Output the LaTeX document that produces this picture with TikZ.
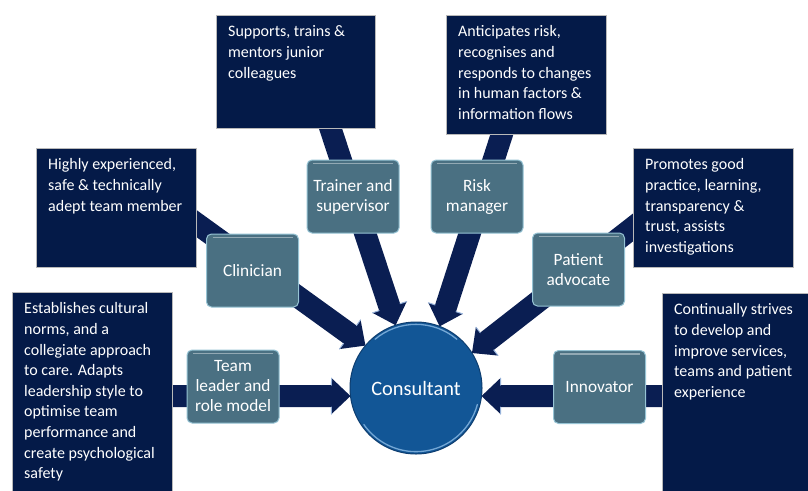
\documentclass[tikz,border=0pt]{standalone}
\usepackage{fontspec}
\setmainfont{Carlito}
\usetikzlibrary{calc}

\definecolor{navybox}{RGB}{4,26,72}
\definecolor{navyarrow}{RGB}{10,30,82}
\definecolor{tealbox}{RGB}{74,112,130}
\definecolor{tealedge}{RGB}{150,195,212}
\definecolor{ballblue}{RGB}{18,86,150}
\definecolor{ballrim}{RGB}{14,62,112}
\definecolor{ballshine}{RGB}{150,195,235}
\definecolor{bevel}{RGB}{150,178,218}

\pgfdeclarelayer{back}
\pgfsetlayers{back,main}

% broad block arrow from a start coordinate (#1) to a tip coordinate (#2)
\newcommand\fatarrow[2]{%
  \path (#2) coordinate (fa-t) ($(#2)!19pt!(#1)$) coordinate (fa-b);
  \fill[navyarrow]
    ($(#1)!11pt!90:(fa-t)$) -- ($(fa-b)!11pt!90:(fa-t)$) --
    ($(fa-b)!18pt!90:(fa-t)$) -- (fa-t) --
    ($(fa-b)!18pt!-90:(fa-t)$) -- ($(fa-b)!11pt!-90:(fa-t)$) --
    ($(#1)!11pt!-90:(fa-t)$) -- cycle;
  \draw[bevel, line width=1pt, line cap=round]
    ($(fa-b)!11pt!90:(fa-t)$) -- ($(fa-b)!18pt!90:(fa-t)$)
    ($(fa-b)!11pt!-90:(fa-t)$) -- ($(fa-b)!18pt!-90:(fa-t)$);
}

\tikzset{
  infobox/.style={rectangle, fill=navybox, draw=gray!55, line width=0.6pt,
    inner sep=0pt, anchor=north west},
  infotext/.style={anchor=north west, inner sep=0pt, align=left, text=white,
    font=\fontsize{16}{20.6}\selectfont},
  rolebox/.style={rectangle, rounded corners=5pt, fill=tealbox, draw=tealedge,
    line width=1pt, minimum width=92pt, minimum height=73pt, inner sep=2pt,
    text=white, align=center, font=\fontsize{17.3}{20}\selectfont,
    path picture={\draw[white, opacity=0.4, line width=1.5pt]
      ($(path picture bounding box.north west)+(6pt,-3.5pt)$) --
      ($(path picture bounding box.north east)+(-6pt,-3.5pt)$);}},
  hub/.style={circle, fill=ballblue, draw=ballrim, line width=1pt,
    minimum size=132pt, inner sep=0pt, outer sep=0pt, text=white,
    font=\fontsize{20.4}{24}\selectfont},
  shine/.style={ballshine, line width=1.3pt, line cap=round, opacity=0.75}
}

\begin{document}
\begin{tikzpicture}[x=1pt, y=-1pt]
\useasboundingbox (0,0) rectangle (808,490);

% description panels
\node[infobox, minimum width=159pt, minimum height=113pt] (b1) at (216,15) {};
\node[infobox, minimum width=160pt, minimum height=119pt] (b2) at (446,15) {};
\node[infobox, minimum width=160pt, minimum height=119pt] (b3) at (36,148) {};
\node[infobox, minimum width=160pt, minimum height=119pt] (b4) at (633,148) {};
\node[infobox, minimum width=160pt, minimum height=200pt] (b5) at (12,292) {};
\node[infobox, minimum width=150pt, minimum height=200pt] (b6) at (662,293) {};

\node[infotext] (t1) at ($(b1.north west)+(12,7.3)$)
  {\strut Supports, trains \&\\ mentors junior\\ colleagues};
\node[infotext] (t2) at ($(b2.north west)+(12,7.3)$)
  {\strut Anticipates risk,\\ recognises and\\ responds to changes\\ in human factors \&\\ information flows};
\node[infotext] (t3) at ($(b3.north west)+(12,7.3)$)
  {\strut Highly experienced,\\ safe \& technically\\ adept team member};
\node[infotext] (t4) at ($(b4.north west)+(12,7.3)$)
  {\strut Promotes good\\ practice, learning,\\ transparency \&\\ trust, assists\\ investigations};
\node[infotext] (t5) at ($(b5.north west)+(12,7.3)$)
  {\strut Establishes cultural\\ norms, and a\\ collegiate approach\\ to care. Adapts\\ leadership style to\\ optimise team\\ performance and\\ create psychological\\ safety};
\node[infotext] (t6) at ($(b6.north west)+(12,7.3)$)
  {\strut Continually strives\\ to develop and\\ improve services,\\ teams and patient\\ experience};

% roles
\node[rolebox] (clin)  at (252.5,270.5) {Clinician};
\node[rolebox] (train) at (353,196.5)   {Trainer and\\ supervisor};
\node[rolebox] (risk)  at (477,196.5)   {Risk\\ manager};
\node[rolebox] (pat)   at (578.5,269.5) {Patient\\ advocate};
\node[rolebox] (team)  at (233,386.5)   {Team\\ leader and\\ role model};
\node[rolebox] (inn)   at (599.5,387)   {Innovator};

% central role with a bevelled rim (y runs downwards, so arc angles are negated)
\node[hub] (cons) at (416,388) {Consultant};
\draw[shine] (cons.50) ++(-1.6,1.8) arc[start angle=-50, end angle=-130, radius=63.6];
\draw[shine] (cons.215) ++(1.9,-1.35) arc[start angle=-215, end angle=-345, radius=63.6];

% arrow tails, hidden under the description panels
\coordinate (s-train) at (321,100);
\coordinate (s-risk)  at (513,100);
\coordinate (s-clin)  at (150,190);
\coordinate (s-pat)   at (690,183);
\coordinate (s-team)  at (100,396);
\coordinate (s-inn)   at (730,396);

\begin{pgfonlayer}{back}
  \fill[white] (0,0) rectangle (808,490);
  \fatarrow{s-train}{cons.108}
  \fatarrow{s-risk}{cons.69}
  \fatarrow{s-clin}{cons.140}
  \fatarrow{s-pat}{cons.32}
  \fatarrow{s-team}{cons.187}
  \fatarrow{s-inn}{cons.353}
\end{pgfonlayer}
\end{tikzpicture}
\end{document}
